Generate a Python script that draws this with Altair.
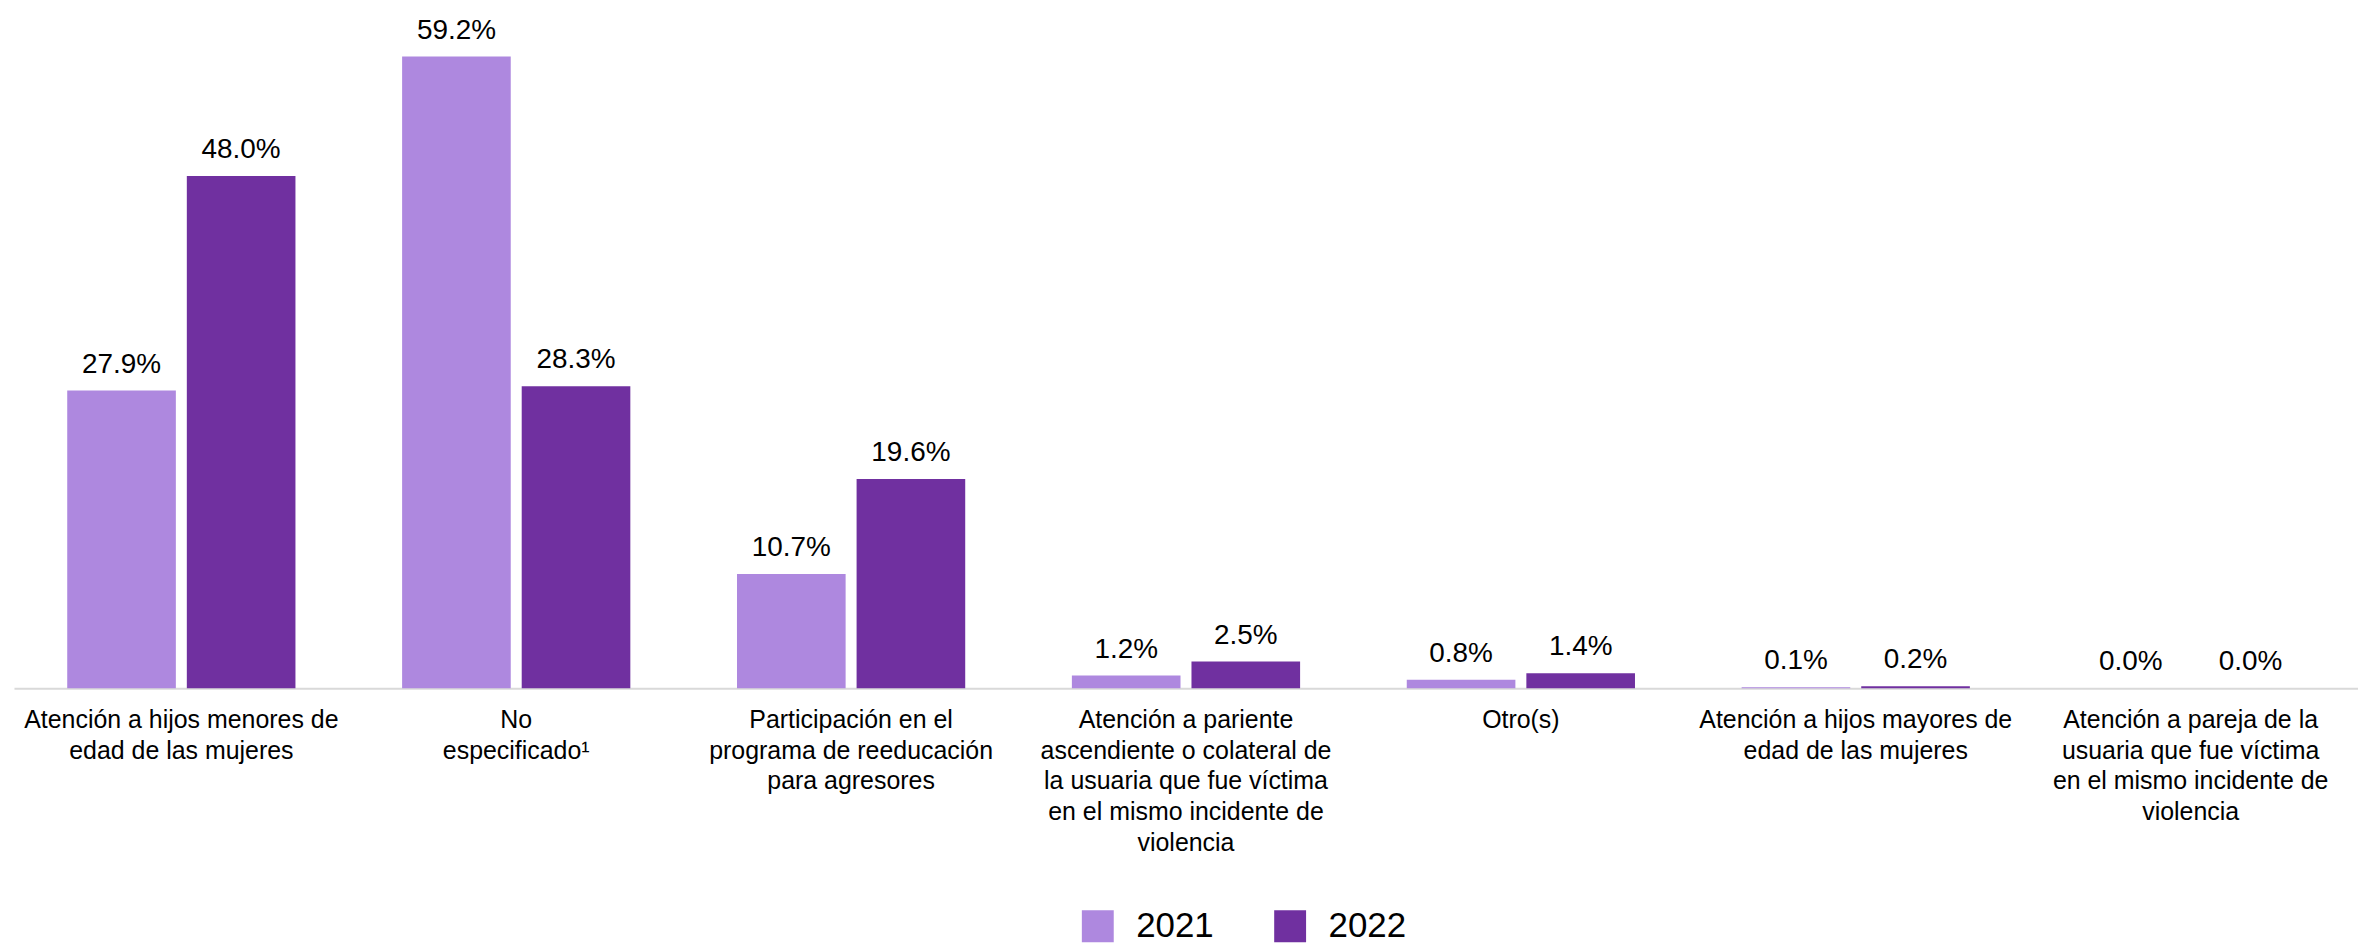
import altair as alt
import pandas as pd

categories = [
    "Atención a hijos menores de|edad de las mujeres",
    "No|especificado¹",
    "Participación en el|programa de reeducación|para agresores",
    "Atención a pariente|ascendiente o colateral de|la usuaria que fue víctima|en el mismo incidente de|violencia",
    "Otro(s)",
    "Atención a hijos mayores de|edad de las mujeres",
    "Atención a pareja de la|usuaria que fue víctima|en el mismo incidente de|violencia",
]
years = ["2021", "2022"]
values_2021 = [27.9, 59.2, 10.7, 1.2, 0.8, 0.1, 0.0]
values_2022 = [48.0, 28.3, 19.6, 2.5, 1.4, 0.2, 0.0]
colors = ["#AE88DF", "#7030A0"]

rows = []
for c, v1, v2 in zip(categories, values_2021, values_2022):
    rows.append({"cat": c, "year": years[0], "value": v1, "label": f"{v1:.1f}%"})
    rows.append({"cat": c, "year": years[1], "value": v2, "label": f"{v2:.1f}%"})
df = pd.DataFrame(rows)

FONT = "Liberation Sans"

x = alt.X(
    "cat:N",
    sort=categories,
    title=None,
    scale=alt.Scale(paddingInner=0.3185, paddingOuter=0.159),
    axis=alt.Axis(
        labelAngle=0,
        labelExpr="split(datum.label, '|')",
        labelFont=FONT,
        labelFontSize=25,
        labelLineHeight=31,
        labelColor="#000000",
        labelPadding=19,
        labelLimit=0,
        ticks=False,
        tickSize=0,
        domainColor="#D9D9D9",
        domainWidth=2,
        grid=False,
    ),
)
xo = alt.XOffset("year:N", sort=years, scale=alt.Scale(paddingInner=0.0917, paddingOuter=0))
y = alt.Y("value:Q", scale=alt.Scale(domain=[0, 63.03], nice=False, zero=True), axis=None)

bars = alt.Chart(df).mark_bar().encode(
    x=x,
    xOffset=xo,
    y=y,
    color=alt.Color(
        "year:N",
        sort=years,
        scale=alt.Scale(domain=years, range=colors),
        legend=alt.Legend(
            title=None,
            orient="none",
            direction="horizontal",
            legendX=1070,
            legendY=896,
            padding=0,
            symbolType="square",
            symbolSize=1024,
            symbolStrokeWidth=0,
            labelFont=FONT,
            labelFontSize=35,
            labelColor="#000000",
            labelOffset=21,
            columnPadding=59,
        ),
    ),
)

texts = alt.Chart(df).mark_text(
    baseline="alphabetic", dy=-18, font=FONT, fontSize=28, color="#000000"
).encode(x=x, xOffset=xo, y=y, text="label:N")

chart = (
    alt.layer(bars, texts)
    .properties(width=2352, height=675, padding={"left": 6, "top": 6, "right": 0, "bottom": 0})
    .configure_view(stroke=None)
)

chart.save("out.html", embed_options={"renderer": "svg", "actions": False})
